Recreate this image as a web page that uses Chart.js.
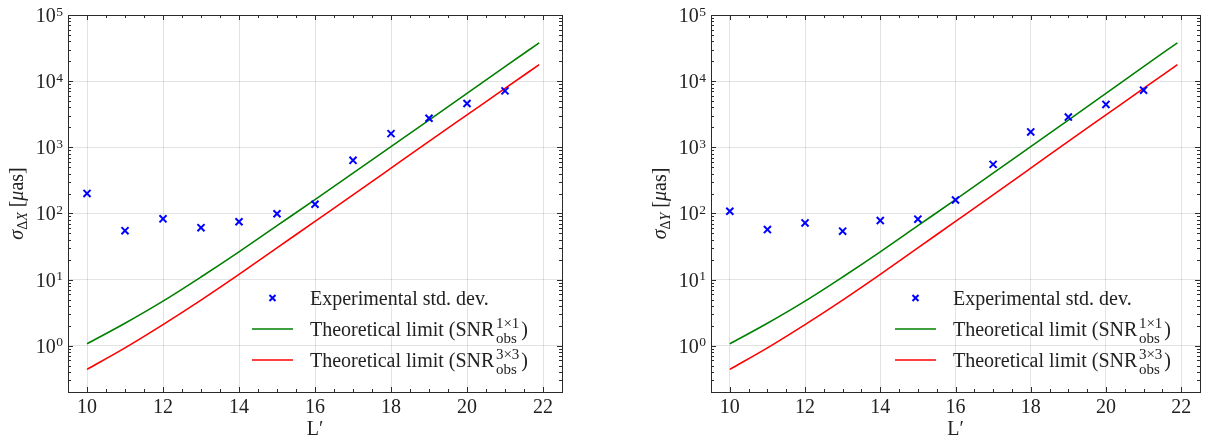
<!DOCTYPE html>
<html lang="en">
<head>
  <meta charset="UTF-8" />
  <title>Astrometric std. dev. vs L'</title>
  <style>
    body { margin: 0; background: #fff; }
    #wrap { position: relative; width: 1207px; height: 439px; }
    .panel { position: absolute; top: 0; height: 439px; }
  </style>
  <script src="https://cdn.jsdelivr.net/npm/chart.js"></script>
</head>
<body>
  <div id="wrap">
    <div class="panel" style="left: 0; width: 643px;"><canvas id="chartX" width="643" height="439"></canvas></div>
    <div class="panel" style="left: 643px; width: 564px;"><canvas id="chartY" width="564" height="439"></canvas></div>
  </div>

  <script>
    // measured points (one per magnitude bin)
    const magnitudes = [10, 11, 12, 13, 14, 15, 16, 17, 18, 19, 20, 21];
    const stdDevX = [201, 55, 83, 61, 75, 99, 138, 635, 1610, 2750, 4590, 7130];
    const stdDevY = [108, 57, 72, 54, 78, 82, 160, 552, 1710, 2860, 4450, 7310];

    // theoretical curves
    const limitMag = [10, 11, 12, 13, 14, 15, 16, 17, 18, 19, 20, 21, 21.9];
    const limit1x1 = [1.07, 2.19, 4.73, 10.96, 26.3, 65.3, 162, 407, 1023, 2570, 6530, 16600, 38000];
    const limit3x3 = [0.44, 0.93, 2.09, 4.9, 12.0, 30.2, 75.9, 191, 484, 1230, 3090, 7760, 17800];

    const xTicks = [10, 12, 14, 16, 18, 20, 22];
    const yTicks = [1, 10, 100, 1000, 10000, 100000];
    const legendLabels = ["Experimental std. dev.", "Theoretical limit (SNR", "Theoretical limit (SNR"];
    const legendSups = ["", "1\u00d71", "3\u00d73"];

    const serif = '"Liberation Serif", "DejaVu Serif", serif';

    function pts(xs, ys) {
      return xs.map((x, i) => ({ x: x, y: ys[i] }));
    }

    const axesPlugin = {
      id: "axesDecor",
      afterDraw(chart, args, opts) {
        const ctx = chart.ctx;
        const area = chart.chartArea;
        const xs = chart.scales.x;
        const ys = chart.scales.y;
        ctx.save();
        ctx.strokeStyle = "#2b2b2b";
        ctx.fillStyle = "#222";
        ctx.lineWidth = 1;

        // frame
        ctx.strokeRect(Math.round(area.left) + 0.5, Math.round(area.top) + 0.5,
          Math.round(area.right - area.left), Math.round(area.bottom - area.top));

        // x ticks, inward on bottom and top
        ctx.beginPath();
        for (let v = 9.5; v <= 22.5; v += 0.5) {
          const px = Math.round(xs.getPixelForValue(v)) + 0.5;
          const len = xTicks.includes(v) ? 5 : 3;
          ctx.moveTo(px, area.bottom); ctx.lineTo(px, area.bottom - len);
          ctx.moveTo(px, area.top); ctx.lineTo(px, area.top + len);
        }
        // y ticks (log), inward on left and right
        for (let e = -1; e <= 5; e++) {
          for (let k = 1; k <= 9; k++) {
            const v = k * Math.pow(10, e);
            if (v < ys.min || v > ys.max) continue;
            const py = Math.round(ys.getPixelForValue(v)) + 0.5;
            const len = k === 1 ? 5 : 3;
            ctx.moveTo(area.left, py); ctx.lineTo(area.left + len, py);
            ctx.moveTo(area.right, py); ctx.lineTo(area.right - len, py);
          }
        }
        ctx.stroke();

        // x tick labels
        ctx.font = "20px " + serif;
        ctx.textAlign = "center";
        ctx.textBaseline = "alphabetic";
        xTicks.forEach(v => {
          ctx.fillText(String(v), xs.getPixelForValue(v), area.bottom + 21);
        });

        // y tick labels 10^n
        yTicks.forEach(v => {
          const e = Math.round(Math.log10(v));
          const py = ys.getPixelForValue(v);
          ctx.font = "13.5px " + serif;
          ctx.textAlign = "right";
          const right = area.left - 5;
          const ew = ctx.measureText(String(e)).width;
          ctx.fillText(String(e), right, py + 0.5);
          ctx.font = "20px " + serif;
          ctx.fillText("10", right - ew - 0.5, py + 7);
        });

        // x title
        ctx.font = "20px " + serif;
        ctx.textAlign = "center";
        ctx.fillText("L\u2032", (area.left + area.right) / 2, area.bottom + 43);

        // y title, rotated
        ctx.save();
        ctx.translate(area.left - 45, (area.top + area.bottom) / 2);
        ctx.rotate(-Math.PI / 2);
        const parts = [
          { t: "\u03c3", f: "italic 20px " + serif, dy: 0 },
          { t: "\u0394", f: "14px " + serif, dy: 4 },
          { t: opts.axisLetter, f: "italic 14px " + serif, dy: 4 },
          { t: " [", f: "20px " + serif, dy: 0 },
          { t: "\u03bc", f: "italic 20px " + serif, dy: 0 },
          { t: "as]", f: "20px " + serif, dy: 0 }
        ];
        let total = 0;
        parts.forEach(p => { ctx.font = p.f; p.w = ctx.measureText(p.t).width; total += p.w; });
        let cx = -total / 2;
        ctx.textAlign = "left";
        parts.forEach(p => { ctx.font = p.f; ctx.fillText(p.t, cx, p.dy); cx += p.w; });
        ctx.restore();

        // legend
        const rows = [area.top + 283, area.top + 314, area.top + 345];
        const lx0 = area.left + 184, lx1 = area.left + 225, mx = area.left + 204.5, tx = area.left + 242;
        const ds = chart.data.datasets;
        ds.forEach((d, i) => {
          const y = rows[i];
          ctx.lineWidth = i === 0 ? 2 : 1.6;
          ctx.strokeStyle = d.borderColor;
          ctx.beginPath();
          if (i === 0) {
            ctx.moveTo(mx - 3, y - 3); ctx.lineTo(mx + 3, y + 3);
            ctx.moveTo(mx - 3, y + 3); ctx.lineTo(mx + 3, y - 3);
          } else {
            ctx.moveTo(lx0, y); ctx.lineTo(lx1, y);
          }
          ctx.stroke();
          ctx.fillStyle = "#222";
          ctx.textAlign = "left";
          ctx.font = "20px " + serif;
          ctx.fillText(legendLabels[i], tx, y + 7);
          if (i > 0) {
            let x = tx + ctx.measureText(legendLabels[i]).width + 1.5;
            ctx.font = "15px " + serif;
            const sw = ctx.measureText(legendSups[i]).width;
            const bw = ctx.measureText("obs").width;
            ctx.fillText(legendSups[i], x, y - 1.5);
            ctx.fillText("obs", x, y + 13.5);
            x += Math.max(sw, bw) + 2;
            ctx.font = "20px " + serif;
            ctx.fillText(")", x, y + 7);
          }
        });
        ctx.restore();
      }
    };

    function makeChart(id, values, letter, rightPad) {
      const ctx = document.getElementById(id).getContext("2d");
      return new Chart(ctx, {
        type: "scatter",
        data: {
          datasets: [
            {
              label: "Experimental std. dev.",
              data: pts(magnitudes, values),
              showLine: false,
              pointStyle: "crossRot",
              pointRadius: 5,
              pointBorderWidth: 2,
              borderColor: "#0000ff",
              backgroundColor: "#0000ff"
            },
            {
              label: "Theoretical limit (SNR 1x1)",
              data: pts(limitMag, limit1x1),
              showLine: true,
              pointRadius: 0,
              borderWidth: 1.6,
              borderColor: "#008000",
              cubicInterpolationMode: "monotone"
            },
            {
              label: "Theoretical limit (SNR 3x3)",
              data: pts(limitMag, limit3x3),
              showLine: true,
              pointRadius: 0,
              borderWidth: 1.6,
              borderColor: "#ff0000",
              cubicInterpolationMode: "monotone"
            }
          ]
        },
        options: {
          responsive: false,
          animation: false,
          layout: { padding: { left: 68, top: 15, right: rightPad, bottom: 47 } },
          scales: {
            x: {
              type: "linear",
              min: 9.5,
              max: 22.5,
              afterBuildTicks: s => { s.ticks = xTicks.map(v => ({ value: v })); },
              ticks: { display: false },
              grid: { color: "rgba(0,0,0,0.11)", drawTicks: false },
              border: { display: false }
            },
            y: {
              type: "logarithmic",
              min: 0.2,
              max: 100000,
              afterBuildTicks: s => { s.ticks = yTicks.map(v => ({ value: v })); },
              ticks: { display: false },
              grid: { color: "rgba(0,0,0,0.11)", drawTicks: false },
              border: { display: false }
            }
          },
          plugins: {
            legend: { display: false },
            tooltip: { enabled: false },
            axesDecor: { axisLetter: letter }
          }
        },
        plugins: [axesPlugin]
      });
    }

    makeChart("chartX", stdDevX, "X", 81);
    makeChart("chartY", stdDevY, "Y", 2);
  </script>
</body>
</html>
